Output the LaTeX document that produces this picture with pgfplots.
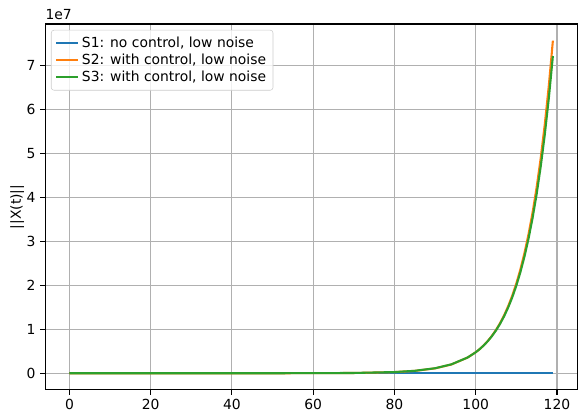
\documentclass[border=0pt]{standalone}
\usepackage{fontspec}
\setmainfont{DejaVu Sans}
\usepackage{pgfplots}
\pgfplotsset{compat=1.18}
\usetikzlibrary{calc}
\definecolor{tabblue}{HTML}{1F77B4}
\definecolor{taborange}{HTML}{FF7F0E}
\definecolor{tabgreen}{HTML}{2CA02C}
\begin{document}
\begin{tikzpicture}
\begin{axis}[
  name=ax,
  scale only axis,
  width=383pt, height=263.5pt,
  xmin=-5.95, xmax=124.95,
  ymin=-3785000, ymax=79485000,
  xtick={0,20,...,120},
  ytick={0,10000000,20000000,30000000,40000000,50000000,60000000,70000000},
  yticklabels={0,1,2,3,4,5,6,7},
  scaled y ticks=false,
  /pgf/number format/assume math mode=true,
  tick label style={font=\fontsize{10}{12}\selectfont},
  tick align=outside, tick pos=left,
  major tick length=3.5pt,
  every tick/.style={black, line width=0.8pt},
  axis line style={line width=0.8pt},
  grid=major,
  major grid style={color=black!31, line width=0.8pt},
  ylabel={||X(t)||},
  ylabel shift=-5pt,
  ylabel style={font=\fontsize{10}{12}\selectfont},
  legend style={at={(rel axis cs:0.0107,0.984)}, anchor=north west,
    draw=black!20, rounded corners=2pt, fill=white, fill opacity=0.8, text opacity=1,
    font=\fontsize{10}{12}\selectfont, row sep=-1pt, inner sep=3pt},
  legend cell align=left,
  legend image code/.code={\draw[#1] (0cm,0cm) -- (0.55cm,0cm);},
  clip=true,
]
\addplot[tabblue, line width=1.5pt] coordinates {(0,1000) (20,1000) (40,1000) (60,1000) (80,1000) (100,1000) (119,1000)};
\addlegendentry{S1: no control, low noise}
\addplot[taborange, line width=1.5pt] coordinates {
(0,0) (40,100) (60,14200) (70,60600) (80,260000) (85,537000) (90,1113000) (94,1992000) (98,3564000)
(100,4770000) (101,5516000) (102,6380000) (103,7380000) (104,8533000) (105,9870000) (106,11420000)
(107,13210000) (108,15280000) (109,17670000) (110,20430000) (111,23630000) (112,27340000) (113,31620000)
(114,36570000) (115,42300000) (116,48930000) (117,56590000) (118,65450000) (119,75700000)};
\addlegendentry{S2: with control, low noise}
\addplot[tabgreen, line width=1.5pt] coordinates {
(0,0) (40,100) (60,15700) (70,65400) (80,273000) (85,558000) (90,1141000) (94,2022000) (98,3584000)
(100,4770000) (101,5504000) (102,6351000) (103,7328000) (104,8455000) (105,9754000) (106,11250000)
(107,12980000) (108,14980000) (109,17280000) (110,19930000) (111,23000000) (112,26530000) (113,30610000)
(114,35320000) (115,40750000) (116,47020000) (117,54240000) (118,62580000) (119,72200000)};
\addlegendentry{S3: with control, low noise}
\end{axis}
\node[anchor=south west, font=\fontsize{10}{12}\selectfont, inner sep=0pt] at ($(ax.north west)+(0pt,3pt)$) {1e7};
\pgfresetboundingbox
\path ($(ax.south west)+(-32.6pt,-18pt)$) rectangle ($(ax.north east)+(1.4pt,17.3pt)$);
\end{tikzpicture}
\end{document}
